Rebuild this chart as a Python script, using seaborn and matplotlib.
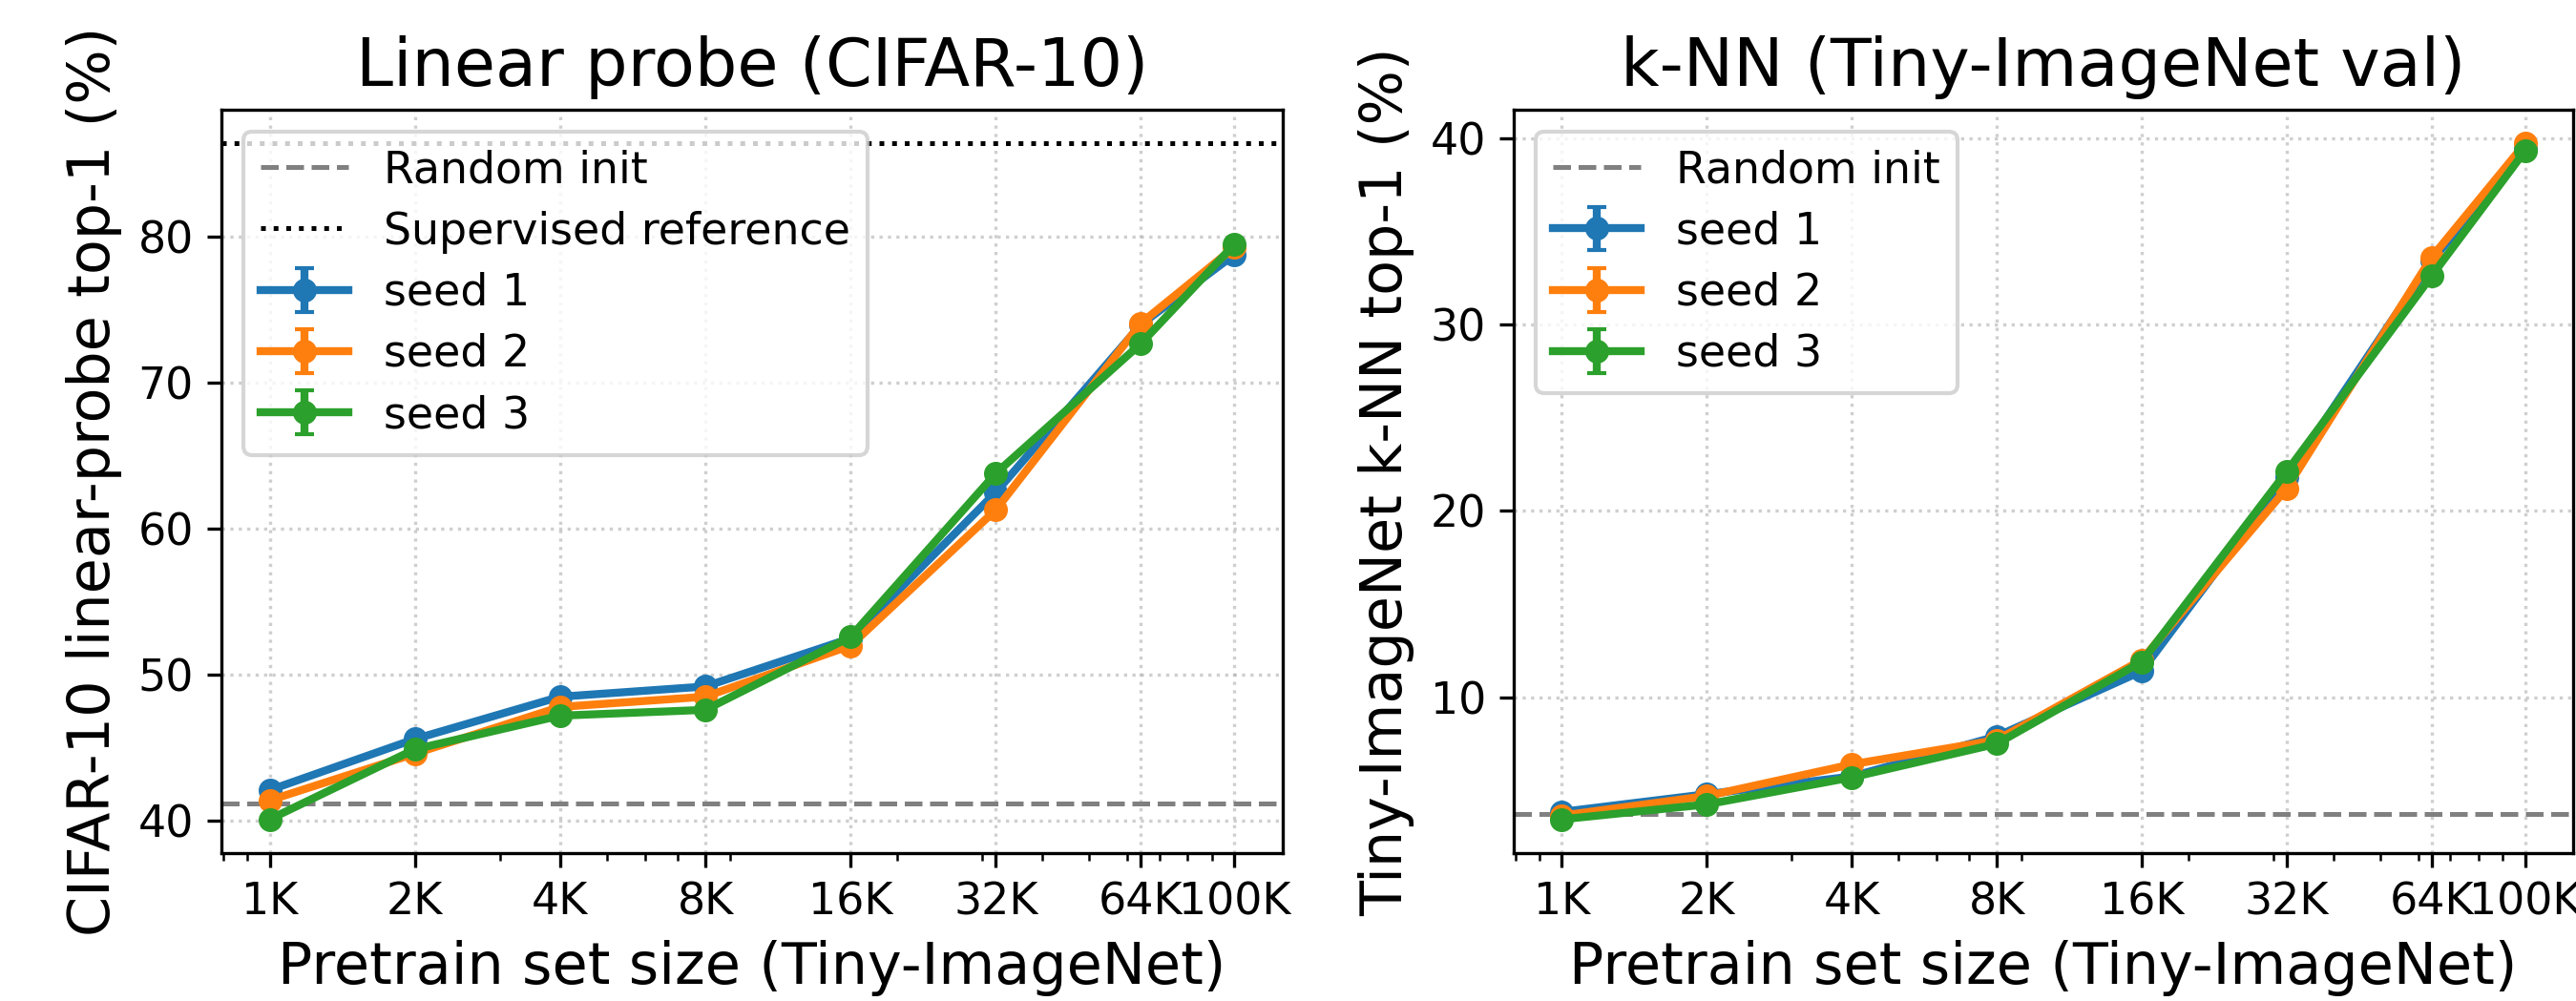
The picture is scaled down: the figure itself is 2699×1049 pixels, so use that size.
import numpy as np
import matplotlib
matplotlib.use("Agg")
import matplotlib.pyplot as plt
import matplotlib.ticker as mticker
import seaborn as sns

# ---- data ----
sizes = [1000, 2000, 4000, 8000, 16000, 32000, 64000, 100000]
size_labels = ["1K", "2K", "4K", "8K", "16K", "32K", "64K", "100K"]
seed_names = ["seed 1", "seed 2", "seed 3"]

lin_seed1 = [42.1, 45.6, 48.5, 49.2, 52.5, 62.5, 74.0, 78.8]
lin_seed2 = [41.4, 44.6, 47.8, 48.5, 52.0, 61.3, 74.1, 79.3]
lin_seed3 = [40.1, 44.9, 47.2, 47.6, 52.6, 63.8, 72.7, 79.5]
lin_random = 41.2
lin_supervised = 86.4

knn_seed1 = [3.85, 4.8, 5.75, 7.9, 11.4, 21.8, 33.4, 39.4]
knn_seed2 = [3.65, 4.7, 6.4, 7.7, 12.0, 21.2, 33.6, 39.7]
knn_seed3 = [3.45, 4.25, 5.7, 7.5, 11.9, 22.1, 32.6, 39.3]
knn_random = 3.75

err_zero = [0, 0, 0, 0, 0, 0, 0, 0]

colors = sns.color_palette("tab10", 3)

fig = plt.figure(figsize=(2699 / 300, 1049 / 300), dpi=300)
ax1 = fig.add_axes([232 / 2699, 1 - 894 / 1049, (1344 - 232) / 2699, (894 - 115) / 1049])
ax2 = fig.add_axes([1586 / 2699, 1 - 894 / 1049, (2696 - 1586) / 2699, (894 - 115) / 1049])

def panel(ax, series, random_val, sup_val, title, ylabel, ystep):
    ax.axhline(random_val, color="gray", linestyle="--", lw=1.2, label="Random init")
    if sup_val is not None:
        ax.axhline(sup_val, color="black", linestyle=":", lw=1.2, label="Supervised reference")
    for vals, name, c in zip(series, seed_names, colors):
        ax.errorbar(sizes, vals, yerr=err_zero, color=c, marker="o", ms=5, lw=2,
                    capsize=2.5, label=name)
    ax.set_xscale("log")
    ax.set_xticks(sizes)
    ax.set_xticklabels(size_labels)
    ax.xaxis.set_minor_formatter(mticker.NullFormatter())
    ax.yaxis.set_major_locator(mticker.MultipleLocator(ystep))
    ax.grid(True, which="major", linestyle=":", alpha=0.6)
    ax.set_title(title, fontsize=16.8)
    ax.set_xlabel("Pretrain set size (Tiny-ImageNet)", fontsize=14.5)
    ax.set_ylabel(ylabel, fontsize=14.5)
    ax.tick_params(axis="both", which="major", labelsize=11)
    ax.legend(loc="upper left", fontsize=11, labelspacing=0.42)

panel(ax1, [lin_seed1, lin_seed2, lin_seed3], lin_random, lin_supervised,
      "Linear probe (CIFAR-10)", "CIFAR-10 linear-probe top-1 (%)", 10)
panel(ax2, [knn_seed1, knn_seed2, knn_seed3], knn_random, None,
      "k-NN (Tiny-ImageNet val)", "Tiny-ImageNet k-NN top-1 (%)", 10)

fig.savefig("out.png", dpi=300)
